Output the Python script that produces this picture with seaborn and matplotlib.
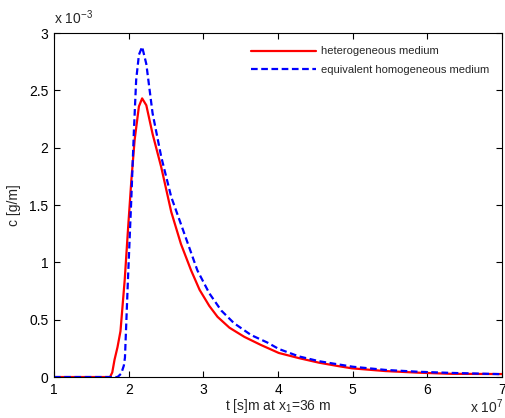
import numpy as np
import pandas as pd
import matplotlib
matplotlib.use("Agg")
import matplotlib.pyplot as plt
import seaborn as sns

# time in units of 1e7 s, concentration in units of 1e-3 g/m
t_het = [1.0, 1.5, 1.75, 1.78, 1.81, 1.85, 1.89, 1.947, 1.99, 2.036, 2.08, 2.137, 2.18,
         2.236, 2.32, 2.436, 2.57, 2.70, 2.836, 2.95, 3.08, 3.19, 3.35, 3.55, 3.77, 4.01,
         4.28, 4.55, 4.81, 4.99, 5.44, 5.88, 6.32, 6.99, 7.0]
c_het = [0.0, 0.0, 0.0, 0.04, 0.15, 0.26, 0.40, 0.85, 1.28, 1.72, 2.07, 2.36, 2.43,
         2.37, 2.12, 1.83, 1.44, 1.16, 0.93, 0.76, 0.62, 0.525, 0.43, 0.35, 0.28, 0.21,
         0.165, 0.125, 0.095, 0.076, 0.052, 0.038, 0.028, 0.026, 0.026]

t_hom = [1.0, 1.5, 1.85, 1.9, 1.935, 1.95, 1.99, 2.036, 2.07, 2.10, 2.137, 2.18, 2.236,
         2.32, 2.436, 2.57, 2.68, 2.80, 2.92, 3.08, 3.24, 3.41, 3.64, 3.86, 4.01, 4.28,
         4.55, 4.81, 5.0, 5.44, 5.88, 6.32, 7.0]
c_hom = [0.0, 0.0, 0.0, 0.03, 0.10, 0.17, 0.85, 1.57, 2.15, 2.59, 2.81, 2.88, 2.73,
         2.30, 1.92, 1.57, 1.37, 1.15, 0.93, 0.73, 0.58, 0.47, 0.366, 0.30, 0.245, 0.18,
         0.138, 0.11, 0.09, 0.062, 0.046, 0.036, 0.025]

labels = ["heterogeneous medium", "equivalent homogeneous medium"]
x_ticks = [1, 2, 3, 4, 5, 6, 7]
y_ticks = [0, 0.5, 1, 1.5, 2, 2.5, 3]
y_tick_labels = ["0", "0.5", "1", "1.5", "2", "2.5", "3"]

df = pd.concat([
    pd.DataFrame({"t": t_het, "c": c_het, "series": labels[0]}),
    pd.DataFrame({"t": t_hom, "c": c_hom, "series": labels[1]}),
], ignore_index=True)

sns.set_style("white")
plt.rcParams["font.family"] = ["Liberation Sans", "DejaVu Sans"]
plt.rcParams["mathtext.fontset"] = "custom"
plt.rcParams["mathtext.rm"] = "Liberation Sans"
plt.rcParams["mathtext.it"] = "Liberation Sans"

fig = plt.figure(figsize=(5.05, 4.18), dpi=100)
ax = fig.add_axes([0.107, 0.098, 0.887, 0.823])

sns.lineplot(data=df, x="t", y="c", hue="series", style="series",
             palette={labels[0]: "#ff0000", labels[1]: "#0000ff"},
             dashes={labels[0]: "", labels[1]: (3, 1.6)},
             linewidth=1.6, ax=ax, sort=False, estimator=None)

ax.set_xlim(1, 7)
ax.set_ylim(0, 3)
ax.set_xticks(x_ticks)
ax.set_xticklabels([str(v) for v in x_ticks])
ax.set_yticks(y_ticks)
ax.set_yticklabels(y_tick_labels)
ax.tick_params(direction="in", length=4, width=0.8, labelsize=10, colors="black",
               top=True, right=True, bottom=True, left=True, pad=4)
for sp in ax.spines.values():
    sp.set_color("black")
    sp.set_linewidth(0.8)

ax.set_xlabel("t [s]m at x$_1$=36 m", fontsize=10, labelpad=0)
ax.set_ylabel("c [g/m]", fontsize=10, labelpad=6)

fig.text(0.107, 0.935, r"x 10$^{-3}$", fontsize=10, ha="left", va="bottom")
fig.text(0.93, 0.004, r"x 10$^{7}$", fontsize=10, ha="left", va="bottom")

leg = ax.legend(loc="upper right", frameon=False, fontsize=8, handlelength=5.8,
                handletextpad=0.5, labelspacing=0.75, bbox_to_anchor=(0.995, 0.99))
for h in leg.get_lines():
    h.set_linewidth(1.6)

fig.savefig("out.png", dpi=100)
